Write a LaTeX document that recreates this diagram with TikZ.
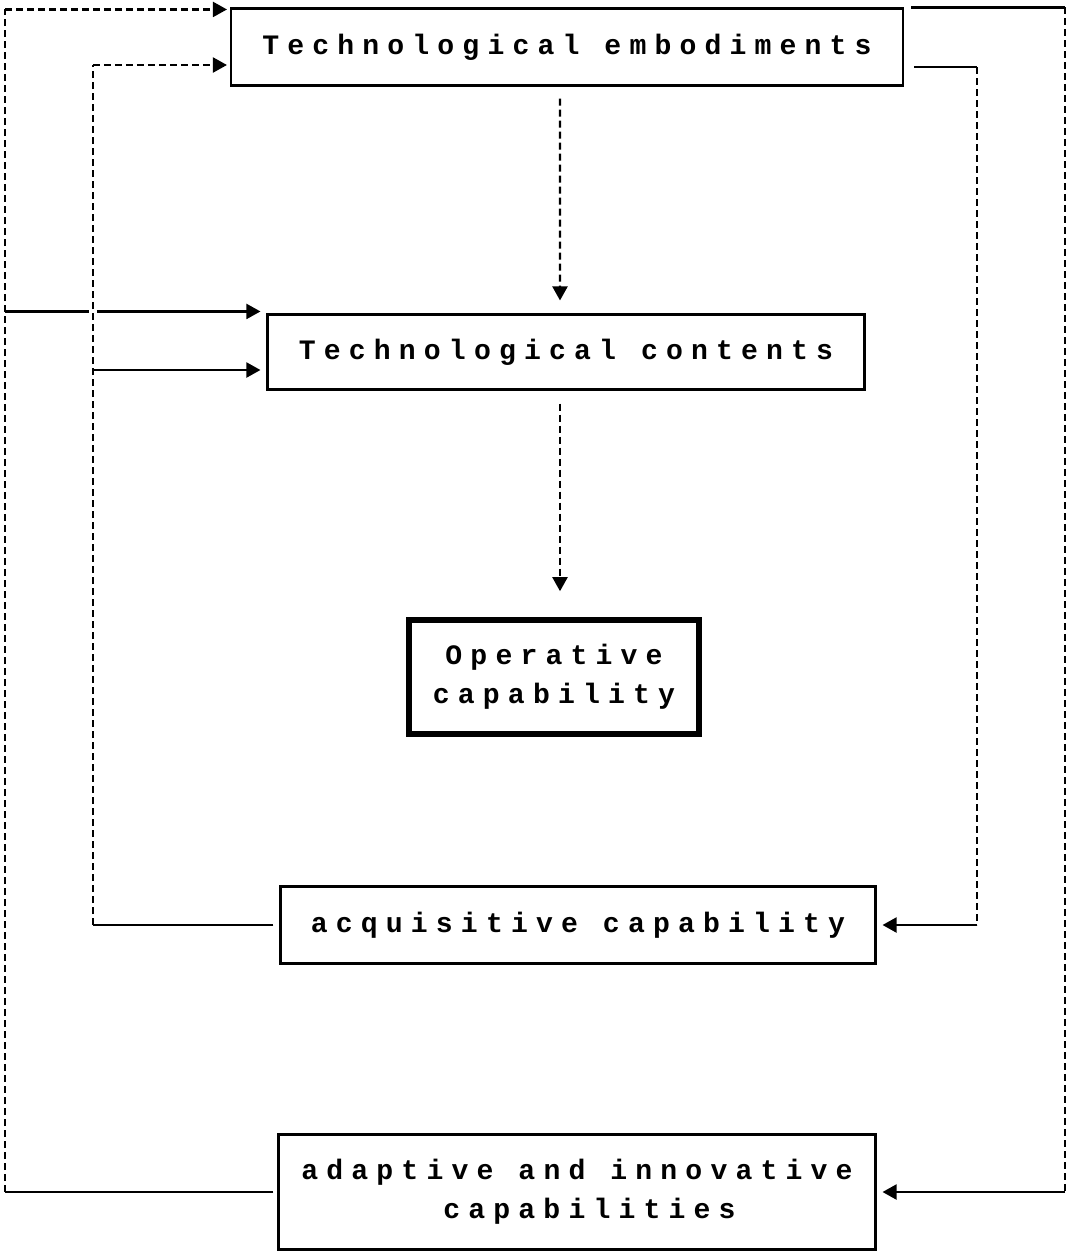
\documentclass[tikz,border=0pt]{standalone}
\usepackage{fontspec}
\usetikzlibrary{arrows.meta}
\newfontfamily\dotfont[LetterSpace=29]{Liberation Mono}
\begin{document}
\begin{tikzpicture}[
    box/.style={draw,line width=0.6pt,inner sep=0pt,align=center,
      font=\dotfont\bfseries\fontsize{8}{11.2}\selectfont},
    heavybox/.style={box,line width=1.6pt},
    hline/.style={line width=0.6pt},
    vline/.style={line width=0.6pt,dash pattern=on 0.7mm off 0.4mm},
    arr/.style={-{Triangle[length=1.4mm,width=1.5mm]}}]
  \useasboundingbox (0,0) rectangle (10.68,-12.52);

  \node[box,minimum width=6.72cm,minimum height=0.77cm] (emb) at (5.67,-0.47) {Technological embodiments};
  \node[box,minimum width=5.97cm,minimum height=0.75cm] (cont) at (5.66,-3.52) {Technological contents};
  \node[heavybox,minimum width=2.90cm,minimum height=1.14cm] (oper) at (5.54,-6.77) {Operative\\capability};
  \node[box,minimum width=5.95cm,minimum height=0.77cm] (acq) at (5.78,-9.25) {acquisitive capability};
  \node[box,minimum width=5.97cm,minimum height=1.15cm] (adapt) at (5.77,-11.92) {adaptive and innovative\\\ capabilities};

  \coordinate (lo) at (0.05,0);
  \coordinate (li) at (0.93,0);
  \coordinate (ri) at (9.77,0);
  \coordinate (ro) at (10.65,0);

  % down the middle
  \draw[vline,arr] ([xshift=-0.7mm,yshift=-1.2mm]emb.south) -- ([xshift=-0.6mm,yshift=1.3mm]cont.north);
  \draw[vline,arr] ([xshift=-0.6mm,yshift=-1.3mm]cont.south) -- ([xshift=-0.6mm,yshift=2.6mm]cont.south |- oper.north);

  % outer left loop
  \coordinate (e1) at ([yshift=-0.2mm]emb.north west);
  \coordinate (c1) at ([yshift=0.2mm]cont.north west);
  \draw[hline] ([xshift=-0.4mm]adapt.west) -- (adapt.west -| lo);
  \draw[vline] (adapt.west -| lo) -- (e1 -| lo);
  \draw[vline,arr] (e1 -| lo) -- ([xshift=-0.3mm]e1);
  \draw[hline] (c1 -| lo) -- ([xshift=-0.4mm]c1 -| li);
  \draw[hline,arr] ([xshift=0.4mm]c1 -| li) -- ([xshift=-0.6mm]c1);

  % inner left loop
  \coordinate (e2) at ([yshift=-1.8mm]emb.west);
  \coordinate (c2) at ([yshift=-1.8mm]cont.west);
  \draw[hline] ([xshift=-0.6mm]acq.west) -- (acq.west -| li);
  \draw[vline] (acq.west -| li) -- (e2 -| li);
  \draw[vline,arr] (e2 -| li) -- ([xshift=-0.3mm]e2);
  \draw[hline,arr] (c2 -| li) -- ([xshift=-0.6mm]c2);

  % inner right loop
  \coordinate (e3) at ([xshift=1mm,yshift=-2mm]emb.east);
  \draw[hline] (e3) -- (e3 -| ri);
  \draw[vline] (e3 -| ri) -- (acq.east -| ri);
  \draw[hline,arr] (acq.east -| ri) -- ([xshift=0.6mm]acq.east);

  % outer right loop
  \coordinate (e4) at ([xshift=0.7mm]emb.north east);
  \draw[hline] (e4) -- (e4 -| ro);
  \draw[vline] (e4 -| ro) -- (adapt.east -| ro);
  \draw[hline,arr] (adapt.east -| ro) -- ([xshift=0.6mm]adapt.east);
\end{tikzpicture}
\end{document}
